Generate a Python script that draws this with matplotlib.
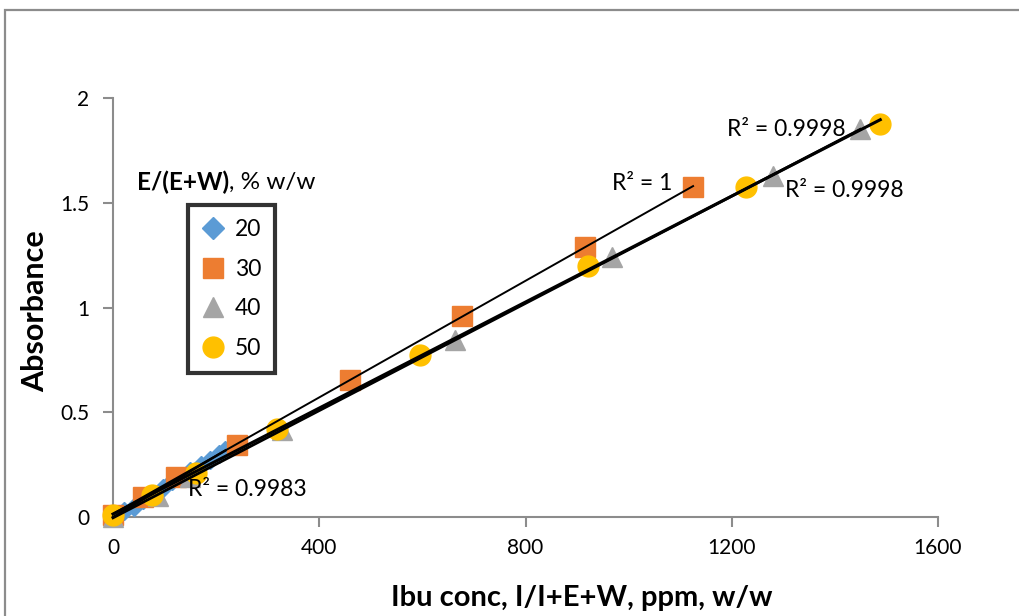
import matplotlib
matplotlib.use("Agg")
import matplotlib.pyplot as plt
import numpy as np
from matplotlib.patches import Rectangle

# ---- data ----
x20 = [0, 22, 40, 58, 78, 96, 115, 133, 150, 170, 188, 205, 218]
y20 = [0.01, 0.03, 0.05, 0.08, 0.11, 0.14, 0.17, 0.19, 0.22, 0.25, 0.27, 0.30, 0.32]
x30 = [0, 58, 122, 240, 460, 677, 915, 1125]
y30 = [0.01, 0.095, 0.19, 0.345, 0.655, 0.96, 1.29, 1.575]
x40 = [0, 87, 150, 328, 663, 968, 1280, 1449]
y40 = [0.0, 0.10, 0.19, 0.415, 0.845, 1.24, 1.63, 1.85]
x50 = [0, 76, 161, 318, 595, 921, 1228, 1488]
y50 = [0.01, 0.105, 0.21, 0.42, 0.773, 1.20, 1.575, 1.875]
series_labels = ["20", "30", "40", "50"]
r2_labels = ["R² = 0.9983", "R² = 1", "R² = 0.9998", "R² = 0.9998"]
xticks = [0, 400, 800, 1200, 1600]
yticks = [0, 0.5, 1, 1.5, 2]
ytick_labels = ["0", "0.5", "1", "1.5", "2"]

plt.rcParams['font.family'] = ['Lato', 'DejaVu Sans']

fig = plt.figure(figsize=(10.2, 6.16), dpi=100)
fig.patches.append(Rectangle((5/1020, -0.1), 1.2, 1 - 10/616 + 0.1, transform=fig.transFigure,
                             fill=False, edgecolor="#8c8c8c", linewidth=1.6, zorder=0))
ax = fig.add_axes([113/1020, 1 - 517/616, (938 - 113)/1020, (517 - 98)/616])
ax.set_xlim(0, 1600)
ax.set_ylim(0, 2)

c20, c30, c40, c50 = "#5b9bd5", "#ed7d31", "#a5a5a5", "#ffc000"
ax.plot(x20, y20, linestyle="none", marker="D", ms=9, color=c20, mec=c20, clip_on=False, zorder=3)
ax.plot(x30, y30, linestyle="none", marker="s", ms=14, color=c30, mec=c30, clip_on=False, zorder=3)
ax.plot(x40, y40, linestyle="none", marker="^", ms=15, color=c40, mec=c40, clip_on=False, zorder=3)
ax.plot(x50, y50, linestyle="none", marker="o", ms=15, color=c50, mec=c50, clip_on=False, zorder=3)

# trendlines (linear fits)
for xs, ys, lw in [(x20, y20, 1.8), (x30, y30, 1.4), (x40, y40, 2.0), (x50, y50, 2.2)]:
    p = np.polyfit(xs, ys, 1)
    xx = np.array([min(xs), max(xs)])
    ax.plot(xx, np.polyval(p, xx), color="black", lw=lw, zorder=4, clip_on=False)

# R² labels
fs_r2 = 16.5
fig.text(247/1020, 1 - 490/616, r2_labels[0], ha="center", va="center", fontsize=fs_r2)
fig.text(642/1020, 1 - 184/616, r2_labels[1], ha="center", va="center", fontsize=fs_r2)
fig.text(786/1020, 1 - 130/616, r2_labels[2], ha="center", va="center", fontsize=fs_r2)
fig.text(844/1020, 1 - 190/616, r2_labels[3], ha="center", va="center", fontsize=fs_r2)

for s in ["top", "right"]:
    ax.spines[s].set_visible(False)
for s in ["left", "bottom"]:
    ax.spines[s].set_color("#8c8c8c")
    ax.spines[s].set_linewidth(1.5)
ax.set_xticks(xticks)
ax.set_xticklabels([str(t) for t in xticks])
ax.set_yticks(yticks)
ax.set_yticklabels(ytick_labels)
ax.tick_params(axis="both", direction="out", length=7, width=1.5, color="#8c8c8c", labelsize=15)
ax.tick_params(axis="x", pad=8)
ax.tick_params(axis="y", pad=10)
ax.set_xlabel("Ibu conc, I/I+E+W, ppm, w/w", fontsize=21, fontweight="bold", va="center")
ax.xaxis.set_label_coords((582 - 113) / 825, (517 - 598) / 419)
ax.set_ylabel("Absorbance", fontsize=22, fontweight="bold", va="center")
ax.yaxis.set_label_coords((35 - 113) / 825, (517 - 311) / 419)

# legend title (part bold)
t1 = fig.text(137/1020, 1 - 182/616, "E/(E+W)", fontsize=17.5, fontweight="bold", ha="left", va="center")
fig.canvas.draw()
bb = t1.get_window_extent()
fig.text(bb.x1 / 1020, 1 - 182/616, ", % w/w", fontsize=17.5, ha="left", va="center")

handles = [
    plt.Line2D([], [], linestyle="none", marker="D", ms=11, color=c20),
    plt.Line2D([], [], linestyle="none", marker="s", ms=14, color=c30),
    plt.Line2D([], [], linestyle="none", marker="^", ms=15, color=c40),
    plt.Line2D([], [], linestyle="none", marker="o", ms=15, color=c50),
]
leg = ax.legend(handles, series_labels, loc="upper left",
                bbox_to_anchor=(188/1020, 1 - 205/616), bbox_transform=fig.transFigure,
                frameon=True, fancybox=False, fontsize=16.5, handlelength=1.0,
                handletextpad=0.45, labelspacing=0.82, borderpad=0.6, borderaxespad=0)
leg.get_frame().set_edgecolor("black")
leg.get_frame().set_linewidth(3)

fig.savefig("out.png", dpi=100)
